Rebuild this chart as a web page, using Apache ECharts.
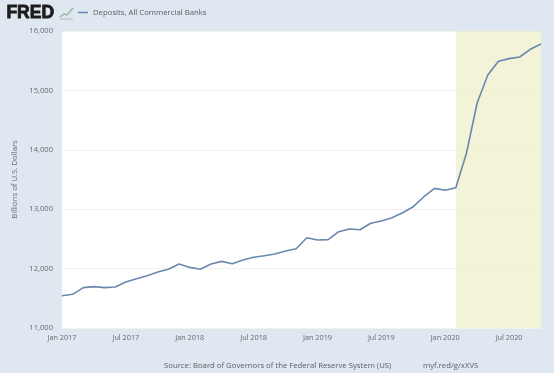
<!DOCTYPE html>
<html>
<head>
<meta charset="utf-8">
<style>
html, body { margin: 0; padding: 0; background: #dfe7f0; }
#main { width: 554px; height: 373px; }
</style>
<script src="https://cdn.jsdelivr.net/npm/echarts@6/dist/echarts.min.js"></script>
</head>
<body>
<div id="main"></div>
<script>
var months = [
    'Jan 2017','Feb 2017','Mar 2017','Apr 2017','May 2017','Jun 2017','Jul 2017','Aug 2017','Sep 2017','Oct 2017','Nov 2017','Dec 2017',
    'Jan 2018','Feb 2018','Mar 2018','Apr 2018','May 2018','Jun 2018','Jul 2018','Aug 2018','Sep 2018','Oct 2018','Nov 2018','Dec 2018',
    'Jan 2019','Feb 2019','Mar 2019','Apr 2019','May 2019','Jun 2019','Jul 2019','Aug 2019','Sep 2019','Oct 2019','Nov 2019','Dec 2019',
    'Jan 2020','Feb 2020','Mar 2020','Apr 2020','May 2020','Jun 2020','Jul 2020','Aug 2020','Sep 2020','Oct 2020'
];

var deposits = [
    11544,11567,11680,11697,11680,11690,11774,11830,11880,11943,11988,12077,
    12020,11988,12077,12122,12083,12145,12190,12217,12246,12296,12335,12520,
    12481,12487,12621,12667,12655,12763,12801,12857,12941,13042,13210,13351,
    13318,13362,13946,14788,15259,15490,15535,15562,15692,15781
];

var recession = ['Feb 2020', 'Oct 2020'];
var seriesName = 'Deposits, All Commercial Banks';
var yTitle = 'Billions of U.S. Dollars';
var sourceText = 'Source: Board of Governors of the Federal Reserve System (US)';
var linkText = 'myf.red/g/xXVS';

var font = '"Open Sans", sans-serif';
var textColor = '#666b70';

var myChart = echarts.init(document.getElementById('main'));
var option = {
    animation: false,
    backgroundColor: '#dfe7f0',
    textStyle: { fontFamily: font },
    grid: {
        left: 62, right: 13, top: 31, bottom: 45,
        show: true,
        backgroundColor: '#fff',
        borderWidth: 0
    },
    legend: {
        left: 73, top: 3.5,
        itemWidth: 10, itemHeight: 1.5, itemGap: 3,
        icon: 'rect',
        data: [seriesName],
        textStyle: { color: '#5c6167', fontSize: 7.75, fontFamily: font }
    },
    xAxis: {
        type: 'category',
        boundaryGap: false,
        data: months,
        axisLine: { show: false },
        axisTick: { show: false },
        splitLine: { show: false },
        axisLabel: {
            // every sixth month, the last point has no label
            interval: function (i) { return i % 6 === 0; },
            color: textColor,
            fontSize: 7.3,
            margin: 6
        }
    },
    yAxis: {
        type: 'value',
        min: 11000,
        max: 16000,
        interval: 1000,
        name: yTitle,
        nameLocation: 'middle',
        nameGap: 42,
        nameTextStyle: { color: textColor, fontSize: 7.75 },
        axisLine: { show: false },
        axisTick: { show: false },
        splitLine: { lineStyle: { color: '#f1f1ee', width: 1 } },
        axisLabel: {
            color: textColor,
            fontSize: 7.6,
            margin: 9,
            formatter: function (v) { return v.toLocaleString('en-US'); }
        }
    },
    series: [{
        name: seriesName,
        type: 'line',
        data: deposits,
        showSymbol: false,
        lineStyle: { color: '#6a88ad', width: 1.6 },
        itemStyle: { color: '#6a88ad' },
        markArea: {
            silent: true,
            itemStyle: { color: 'rgba(235,235,190,0.62)' },
            data: [[{ xAxis: recession[0] }, { xAxis: recession[1] }]]
        }
    }],
    graphic: [
        // FRED logo
        {
            type: 'text', left: 6, top: 4,
            style: {
                text: 'FRED',
                fill: '#1c1c1c',
                stroke: '#1c1c1c',
                lineWidth: 0.8,
                font: '900 17.5px "Liberation Sans", sans-serif'
            }
        },
        {
            type: 'polyline', silent: true,
            shape: { points: [[60, 17], [64, 14], [67, 15], [73, 8]] },
            style: { stroke: '#9db29a', lineWidth: 1.5, fill: 'none' }
        },
        {
            type: 'polyline', silent: true,
            shape: { points: [[60, 19], [73, 19]] },
            style: { stroke: '#c3cbc4', lineWidth: 1.5, fill: 'none' }
        },
        // footer
        {
            type: 'text', left: 164, top: 362,
            style: { text: sourceText, fill: '#5c6167', font: '7.75px ' + font }
        },
        {
            type: 'text', left: 423, top: 362,
            style: { text: linkText, fill: '#5c6167', font: '7.75px ' + font }
        }
    ]
};
myChart.setOption(option);
</script>
</body>
</html>
